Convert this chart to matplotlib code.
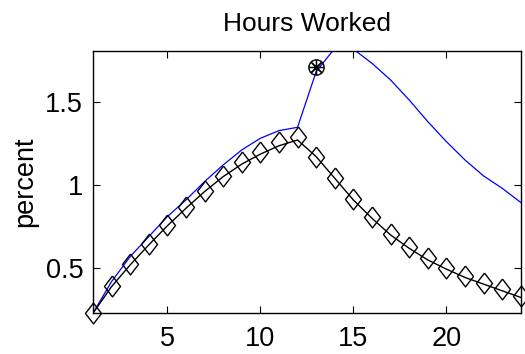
import matplotlib
matplotlib.use("Agg")
import matplotlib.pyplot as plt

plt.rcParams['font.family'] = ['Liberation Sans', 'DejaVu Sans']

# quarters after shock
periods = list(range(1, 25))

# blue line
blue_vals = [0.23, 0.42, 0.57, 0.69, 0.81, 0.91, 1.02, 1.12, 1.21, 1.28, 1.326, 1.346,
             1.68, 1.82, 1.815, 1.73, 1.63, 1.51, 1.38, 1.26, 1.15, 1.054, 0.98, 0.895]

# black line
black_vals = [0.23, 0.39, 0.52, 0.64, 0.755, 0.86, 0.96, 1.05, 1.125, 1.185, 1.235, 1.27,
              1.17, 1.04, 0.91, 0.80, 0.70, 0.62, 0.55, 0.495, 0.445, 0.405, 0.365, 0.325]

# diamond markers
diamond_vals = [0.23, 0.394, 0.526, 0.644, 0.76, 0.866, 0.966, 1.056, 1.136, 1.20, 1.26, 1.29,
                1.17, 1.044, 0.914, 0.806, 0.706, 0.626, 0.56, 0.504, 0.456, 0.414, 0.374, 0.334]

# highlighted point
star_x = [13]
star_y = [1.71]

diamond = [(0, 1), (0.77, 0), (0, -1), (-0.77, 0), (0, 1)]

fig = plt.figure(figsize=(5.25, 3.54), dpi=100)
ax = fig.add_axes([0.177, 0.115, 0.815, 0.742])

ax.plot(periods, blue_vals, color="blue", lw=0.9)
ax.plot(periods, black_vals, color="black", lw=1.0)
ax.plot(periods, diamond_vals, ls="none", marker=diamond, ms=15, mfc="none",
        mec="black", mew=1.0, clip_on=False)
ax.plot(star_x, star_y, ls="none", marker="o", ms=11, mfc="none", mec="black", mew=1.0)
ax.plot(star_x, star_y, ls="none", marker=(8, 2, 0), ms=11, mec="black", mew=0.9)

ax.set_xlim(1, 24)
ax.set_ylim(0.23, 1.806)
ax.set_xticks([5, 10, 15, 20])
ax.set_yticks([0.5, 1, 1.5])
ax.set_yticklabels(["0.5", "1", "1.5"])
ax.tick_params(direction="in", top=True, right=True, length=5, width=0.8,
               labelsize=19.5)
ax.tick_params(axis="x", pad=9)
ax.tick_params(axis="y", pad=7)
for s in ax.spines.values():
    s.set_linewidth(1.0)

ax.set_title("Hours Worked", fontsize=19, pad=14)
ax.set_ylabel("percent", fontsize=19.5, labelpad=5)

fig.savefig("out.png", dpi=100)
